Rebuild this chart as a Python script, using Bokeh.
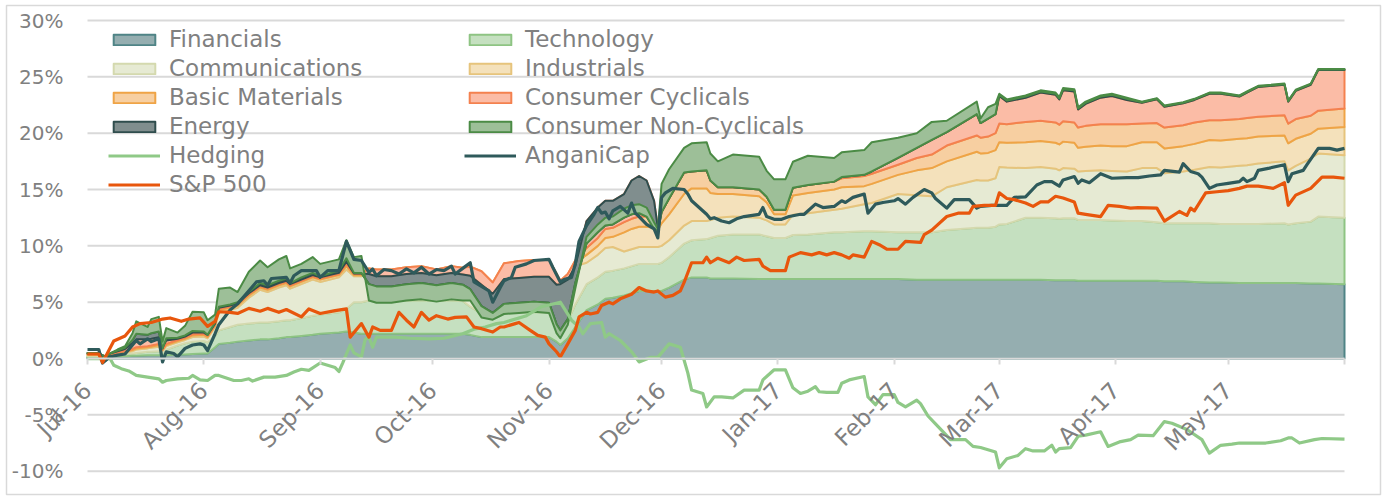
import math
import numpy as np
import pandas as pd
from bokeh.plotting import figure
from bokeh.models import (ColumnDataSource, Legend, LegendItem, FixedTicker,
                          PrintfTickFormatter, Range1d)
from bokeh.embed import file_html
from bokeh.resources import INLINE

# ---------------- data ----------------
sector_names = ["Financials", "Technology", "Communications", "Industrials",
                "Basic Materials", "Consumer Cyclicals", "Energy", "Consumer Non-Cyclicals"]

stack_dates = [
    "2016-07-01", "2016-07-04", "2016-07-06", "2016-07-07", "2016-07-09", "2016-07-11", "2016-07-13", "2016-07-14",
    "2016-07-17", "2016-07-18", "2016-07-20", "2016-07-21", "2016-07-22", "2016-07-25", "2016-07-27", "2016-07-29",
    "2016-08-01", "2016-08-02", "2016-08-04", "2016-08-05", "2016-08-08", "2016-08-10", "2016-08-13", "2016-08-16",
    "2016-08-18", "2016-08-21", "2016-08-23", "2016-08-24", "2016-08-27", "2016-08-30", "2016-09-01", "2016-09-06",
    "2016-09-08",
    "2016-09-10", "2016-09-12", "2016-09-14", "2016-09-16", "2016-09-20", "2016-09-24", "2016-09-28", "2016-10-02",
    "2016-10-06", "2016-10-09", "2016-10-11", "2016-10-14", "2016-10-17",
    "2016-10-20", "2016-10-24", "2016-10-28", "2016-11-01", "2016-11-03", "2016-11-04", "2016-11-06", "2016-11-08",
    "2016-11-11", "2016-11-14", "2016-11-16", "2016-11-18", "2016-11-21", "2016-11-23", "2016-11-25", "2016-11-27",
    "2016-11-29", "2016-11-30",
    "2016-12-01", "2016-12-03", "2016-12-07", "2016-12-09", "2016-12-13", "2016-12-14", "2016-12-16", "2016-12-20",
    "2016-12-27", "2016-12-29", "2016-12-31", "2017-01-03",
    "2017-01-05", "2017-01-09", "2017-01-16", "2017-01-18", "2017-01-24", "2017-01-26", "2017-02-02", "2017-02-07",
    "2017-02-11", "2017-02-15", "2017-02-23", "2017-02-24", "2017-02-26", "2017-02-28", "2017-03-01",
    "2017-03-03", "2017-03-08", "2017-03-12", "2017-03-16", "2017-03-17", "2017-03-18", "2017-03-21", "2017-03-22",
    "2017-03-24", "2017-03-28", "2017-03-31", "2017-04-04",
    "2017-04-08", "2017-04-12", "2017-04-14", "2017-04-19", "2017-04-22", "2017-04-26", "2017-04-29", "2017-05-04",
    "2017-05-06", "2017-05-09", "2017-05-16", "2017-05-17", "2017-05-19", "2017-05-23", "2017-05-25", "2017-06-01"]

financials = [
    .1, .1, .1, .15, .2, .2, .25, .25, .3, .3, .3, .3, .3, .35, .35, .4,
    .45, .45, 1.0, 1.3, 1.4, 1.5, 1.6, 1.7, 1.7, 1.8, 1.9, 1.9, 2.0, 2.1, 2.2, 2.3, 2.4,
    2.3, 2.2, 2.2, 2.2, 2.2, 2.2, 2.2, 2.2, 2.2, 2.2, 2.1, 1.9, 1.9,
    1.9, 1.9, 1.9, 1.9, 1.5, 1.2, 1.8, 2.8,
    4.3, 4.8, 5.3, 5.4, 5.6, 5.8, 6.0, 6.0, 6.0, 6.0,
    6.0, 6.3, 7.0, 7.2, 7.2, 7.1, 7.1, 7.1, 7.06, 7.06, 7.06, 7.06,
    7.06, 7.06, 7.06, 7.06, 7.06, 7.06, 7.06, 7.0, 7.0, 7.0, 7.0, 7.0, 7.0, 7.0, 7.0,
    7.0, 7.0, 7.0, 6.95, 6.95, 6.95, 6.95, 6.9, 6.9, 6.9, 6.9, 6.9,
    6.9, 6.9, 6.85, 6.85, 6.8, 6.75, 6.75, 6.7, 6.7, 6.7, 6.7, 6.7, 6.7, 6.65, 6.65, 6.6]
technology = [
    .1, .1, .05, .1, .15, .2, .2, .25, .3, .3, .35, .2, .5, .8, 1.0, 1.1,
    1.1, 1.0, 1.0, 1.2, 1.4, 1.5, 1.5, 1.5, 1.5, 1.5, 1.5, 1.5, 1.6, 1.7, 1.7, 1.8, 2.0,
    2.7, 2.8, 2.95, 2.95, 2.95, 2.95, 2.95, 2.95, 2.95, 2.9, 2.5, 2.1, 1.8,
    2.2, 2.2, 2.2, 2.2, 1.5, 1.2, 1.5, 2.0,
    2.3, 2.4, 2.4, 2.4, 2.4, 2.4, 2.4, 2.4, 2.4, 2.4,
    2.5, 2.7, 3.2, 3.3, 3.4, 3.6, 3.8, 3.9, 3.94, 3.8, 3.64, 3.64,
    3.9, 3.94, 4.14, 4.14, 4.24, 4.24, 4.14, 4.2, 4.2, 4.4, 4.6, 4.6, 4.6, 4.7, 4.9,
    4.95, 5.5, 5.5, 5.5, 5.45, 5.5, 5.5, 5.4, 5.4, 5.4, 5.35, 5.3,
    5.3, 5.2, 5.15, 5.15, 5.2, 5.25, 5.2, 5.25, 5.25, 5.25, 5.3, 5.2, 5.3, 5.5, 5.95, 5.9]
communications = [
    .1, .1, 0, .05, .1, .15, .2, .3, .3, .35, .4, .2, .3, .3, .3, .4,
    .4, .35, .8, 1.6, 1.5, 1.5, 2.3, 2.9, 2.7, 3.0, 3.1, 2.8, 3.0, 3.2, 2.9, 3.1, 3.5,
    2.3, 2.3, 2.3, 2.2, 2.2, 2.4, 2.5, 2.2, 2.5, 2.4, 3.0, 3.2, 2.5,
    3.8, 4.0, 4.1, 4.1, 4.0, 4.0, 3.7, 3.4,
    1.9, 2.0, 2.1, 2.1, 1.5, 1.5, 1.5, 1.5, 1.5, 1.5,
    1.5, 1.5, 1.6, 1.7, 1.6, 1.6, 1.6, 1.6, 1.5, 1.4, 1.2, 1.2,
    1.8, 1.9, 2.0, 2.1, 2.4, 2.5, 3.4, 3.3, 3.2, 3.8, 4.25, 4.2, 4.2, 4.3, 5.1,
    5.0, 4.4, 4.5, 4.4, 4.3, 4.45, 4.4, 4.3, 4.35, 4.4, 4.4, 4.4,
    4.7, 4.8, 4.45, 4.6, 4.75, 5.0, 5.0, 5.15, 5.2, 5.35, 5.5, 4.8, 5.1, 5.6, 5.6, 5.55]
industrials = [
    .05, .05, 0, .05, .05, .05, .1, .1, .1, .1, .15, .05, .1, .1, .1, .15,
    .15, .1, .1, .2, .2, .2, .2, .2, .2, .2, .2, .2, .2, .2, .2, .2, .3,
    .1, .1, .3, .3, .3, .3, .3, .3, .3, .3, .3, .3, .3,
    .3, .3, .3, .3, .3, .3, .3, .3,
    .7, .8, .9, .9, 1.7, 1.8, 1.8, 1.8, 1.7, 1.5,
    2.0, 2.3, 2.8, 2.9, 2.9, 2.4, 2.1, 2.0, 1.9, 1.6, .9, .9,
    1.7, 1.8, 1.8, 1.9, 1.6, 1.7, 1.7, 2.2, 2.5, 2.3, 2.5, 2.4, 2.45, 2.5, 2.2,
    2.2, 2.3, 2.3, 2.3, 2.3, 2.35, 2.3, 2.1, 2.15, 2.2, 2.2, 2.25,
    2.3, 2.3, 2.2, 2.25, 2.3, 2.4, 2.4, 2.4, 2.4, 2.4, 2.3, 2.4, 2.4, 2.2, 2.2, 2.5]
basic_materials = [
    .05, .05, 0, .05, .05, .05, .1, .1, .1, .1, .1, .05, .1, .1, .1, .1,
    .1, .1, .1, .1, .1, .1, .1, .1, .1, .1, .1, .1, .1, .1, .1, .1, .2,
    .1, .1, .25, .25, .25, .25, .25, .25, .25, .25, .25, .25, .25,
    .25, .25, .25, .25, .25, .2, .2, .2,
    .6, .7, .8, .8, .9, .9, .9, .9, .9, .4,
    1.0, 1.4, 1.9, 1.5, 1.6, 1.1, .6, .6, .6, .5, .4, .4,
    .7, .7, .7, .8, .9, .9, .9, 1.1, 1.2, 1.4, 1.45, 1.4, 1.45, 1.5, 1.65,
    1.65, 1.8, 1.8, 1.8, 1.75, 1.8, 1.8, 1.8, 1.85, 1.9, 1.95, 1.95,
    1.65, 1.7, 1.85, 1.85, 1.9, 1.75, 1.8, 1.75, 1.8, 1.75, 1.8, 1.75, 1.75, 1.6, 1.6, 1.65]
consumer_cyclicals = [
    .05, .05, 0, .05, .1, .2, .5, .7, .6, .6, .6, .2, .3, .1, .1, .15,
    .1, .1, .1, .1, .1, .1, .1, .1, .1, .1, .1, .1, .1, .1, .1, .1, .2,
    .05, .05, -.5, -.6, -.6, -.6, -.6, -.5, -.6, -.6, -.8, -1.2, -1.0,
    -1.4, -1.5, -1.5, -1.5, -1.0, -.3, -.5, -.5,
    2.4, 2.7, 2.5, 2.4, 2.5, 3.4, 3.6, 3.2, 1.5, -.2,
    0, 0, 0, 0, 0, 0, 0, 0, 0, 0, 0, 0,
    0, 0, 0, .1, .1, .2, .6, .9, 1.3, 1.2, 1.9, 1.3, 1.6, 1.7, 2.45,
    2.0, 2.15, 2.5, 2.45, 2.25, 2.75, 2.75, 1.6, 1.95, 2.35, 2.5, 2.15,
    1.85, 2.1, 1.85, 1.95, 2.0, 2.35, 2.35, 2.0, 2.25, 2.65, 2.7, 1.95, 2.5, 2.75, 3.6, 3.4]
energy = [
    .05, .05, -.1, 0, .05, .1, .3, .5, .4, .5, .5, -.1, .2, .1, .1, .15,
    .1, 0, .1, .1, .1, .1, .1, .2, .2, .2, .2, .1, .2, .2, .1, .2, .3,
    .05, .05, -.9, -.9, -.9, -.9, -.9, -.9, -.9, -.9, -1.2, -1.9, -1.7,
    -2.2, -2.2, -2.2, -2.3, -3.5, -4.1, -3.5, -1.5,
    -2.0, -2.2, -2.2, -2.1, -2.1, -3.0, -3.3, -3.2, -2.5, -.3,
    0, 0, 0, 0, 0, 0, 0, 0, 0, 0, 0, 0,
    0, 0, 0, 0, 0, 0, 0, 0, 0, 0, 0, 0, 0, 0, .1,
    .1, .1, .1, .1, .1, .1, .1, .1, .1, .1, .1, .1,
    .05, .05, .05, .05, .05, .05, .05, .05, .05, .05, .05, .05, .05, .05, .05, .05]
consumer_non_cyclicals = [
    0, 0, -.2, 0, .1, .15, .6, 1.1, .7, 1.25, 1.3, .6, .9, .45, .85, 1.7,
    1.7, 1.3, .7, 1.6, 1.5, .9, 1.8, 2.0, 1.6, 1.9, 2.0, 1.3, 1.2, 1.4, 1.1, 1.0, 1.6,
    1.4, 1.5, -1.45, -1.45, -1.45, -1.45, -1.45, -1.45, -1.45, -1.4, -1.0, -1.0, -.6,
    -.9, -.9, -.9, -.9, -.8, -.7, -.5, -.5,
    .6, .7, .7, .7, .8, .8, .8, .8, .6, .2,
    2.5, 2.6, 2.2, 2.5, 2.5, 2.4, 2.3, 2.9, 2.9, 2.3, 2.7, 2.7,
    2.3, 2.6, 2.1, 2.2, 2.2, 2.6, 1.8, 1.3, 1.6, 1.0, 1.1, .4, 1.0, .9, .1,
    .1, .1, .1, .1, .1, .1, .1, .1, .1, .1, .1, .1,
    .05, .05, .05, .05, .05, .05, .05, .05, .05, .05, .05, .05, .05, .05, .05, .05]

hedging_dates = [
    "2016-07-01", "2016-07-04", "2016-07-07", "2016-07-08", "2016-07-10", "2016-07-12", "2016-07-14", "2016-07-17",
    "2016-07-20", "2016-07-21", "2016-07-22", "2016-07-25", "2016-07-28", "2016-07-29", "2016-07-31", "2016-08-02",
    "2016-08-04", "2016-08-05", "2016-08-09", "2016-08-11", "2016-08-13", "2016-08-14", "2016-08-17", "2016-08-20",
    "2016-08-23", "2016-08-25", "2016-08-27", "2016-08-29", "2016-09-01", "2016-09-03", "2016-09-05", "2016-09-06",
    "2016-09-07", "2016-09-09", "2016-09-10", "2016-09-12", "2016-09-13", "2016-09-14", "2016-09-15", "2016-09-16",
    "2016-09-21", "2016-09-25", "2016-09-30", "2016-10-04", "2016-10-09", "2016-10-12", "2016-10-15", "2016-10-18",
    "2016-10-20", "2016-10-26", "2016-10-30", "2016-11-04", "2016-11-07", "2016-11-09", "2016-11-10", "2016-11-12",
    "2016-11-15", "2016-11-16", "2016-11-17", "2016-11-20", "2016-11-23", "2016-11-25", "2016-11-28", "2016-11-30",
    "2016-12-03", "2016-12-06", "2016-12-08", "2016-12-09", "2016-12-12", "2016-12-13", "2016-12-15", "2016-12-17",
    "2016-12-20", "2016-12-23", "2016-12-27", "2016-12-28", "2016-12-31", "2017-01-03", "2017-01-05", "2017-01-07",
    "2017-01-09", "2017-01-11", "2017-01-12", "2017-01-14", "2017-01-17", "2017-01-18", "2017-01-20", "2017-01-24",
    "2017-01-25", "2017-01-27", "2017-01-29", "2017-02-01", "2017-02-02", "2017-02-04", "2017-02-07", "2017-02-08",
    "2017-02-10", "2017-02-12", "2017-02-16", "2017-02-20", "2017-02-22", "2017-02-24", "2017-02-28", "2017-03-01",
    "2017-03-03", "2017-03-06", "2017-03-08", "2017-03-10", "2017-03-13", "2017-03-15", "2017-03-16", "2017-03-17",
    "2017-03-20", "2017-03-22", "2017-03-24", "2017-03-28", "2017-03-30", "2017-04-02", "2017-04-05", "2017-04-07",
    "2017-04-11", "2017-04-14", "2017-04-16", "2017-04-20", "2017-04-24", "2017-04-26", "2017-04-29", "2017-05-02",
    "2017-05-04", "2017-05-11", "2017-05-15", "2017-05-17", "2017-05-18", "2017-05-20", "2017-05-24", "2017-05-26",
    "2017-06-01"]
hedging = [
    0, 0, 0, -.6, -.9, -1.1, -1.5, -1.65,
    -1.8, -2.1, -1.95, -1.8, -1.75, -1.5, -1.9, -1.95,
    -1.5, -1.5, -1.95, -1.95, -1.8, -2.0, -1.65, -1.65,
    -1.5, -1.2, -.95, -1.05, -.4, -.6, -.8, -1.15,
    -.4, 1.2, .5, .15, 1.7, 1.9, 1.0, 1.9,
    1.9, 1.8, 1.75, 1.8, 2.2, 2.6, 2.8, 3.1,
    3.2, 3.8, 4.6, 5.0, 3.4, 2.8, 2.2, 3.1,
    3.2, 1.9, 2.2, 1.6, .6, -.3, .1, .1,
    1.3, 1.0, -1.3, -2.8, -3.1, -4.3, -3.4, -3.4,
    -3.5, -2.8, -2.8, -1.9, -1.0, -1.0, -2.6, -3.1,
    -2.9, -2.5, -2.95, -3.0, -3.0, -2.2, -1.9, -1.6,
    -3.4, -4.1, -3.2, -3.2, -3.9, -4.3, -3.7, -4.0,
    -5.1, -5.8, -7.2, -7.2, -7.8, -7.9, -8.3, -9.7,
    -8.9, -8.6, -8.0, -8.2, -8.2, -7.7, -8.3, -8.0,
    -7.9, -6.9, -6.8, -6.5, -7.8, -7.4, -7.2, -6.8,
    -6.85, -5.6, -5.75, -6.3, -7.2, -8.4, -7.7, -7.6,
    -7.5, -7.5, -7.3, -7.05, -7.05, -7.5, -7.2, -7.1,
    -7.15]

anganicap_dates = [
    "2016-07-01", "2016-07-04", "2016-07-05", "2016-07-07", "2016-07-09", "2016-07-11", "2016-07-13", "2016-07-14",
    "2016-07-15", "2016-07-17", "2016-07-18", "2016-07-20", "2016-07-21", "2016-07-22", "2016-07-24", "2016-07-25",
    "2016-07-27", "2016-07-29", "2016-07-31", "2016-08-01", "2016-08-02", "2016-08-04", "2016-08-05", "2016-08-08",
    "2016-08-10", "2016-08-13", "2016-08-15", "2016-08-17", "2016-08-18", "2016-08-19", "2016-08-23", "2016-08-24",
    "2016-08-25", "2016-08-27", "2016-08-31", "2016-09-01", "2016-09-03", "2016-09-06", "2016-09-08", "2016-09-10",
    "2016-09-12", "2016-09-14", "2016-09-15", "2016-09-16", "2016-09-18", "2016-09-20", "2016-09-22", "2016-09-24",
    "2016-09-26", "2016-09-28", "2016-09-30", "2016-10-02", "2016-10-04", "2016-10-06", "2016-10-07", "2016-10-09",
    "2016-10-11", "2016-10-12", "2016-10-13", "2016-10-16", "2016-10-17", "2016-10-19", "2016-10-20", "2016-10-22",
    "2016-10-23", "2016-10-26", "2016-10-28", "2016-11-01", "2016-11-02", "2016-11-04", "2016-11-05", "2016-11-07",
    "2016-11-08", "2016-11-09", "2016-11-11", "2016-11-13", "2016-11-14", "2016-11-15", "2016-11-16", "2016-11-17",
    "2016-11-18", "2016-11-20", "2016-11-22", "2016-11-23", "2016-11-24", "2016-11-25", "2016-11-27", "2016-11-29",
    "2016-11-30", "2016-12-01", "2016-12-02", "2016-12-04", "2016-12-07", "2016-12-08", "2016-12-09", "2016-12-11",
    "2016-12-13", "2016-12-14", "2016-12-15", "2016-12-17", "2016-12-19", "2016-12-21", "2016-12-23", "2016-12-27",
    "2016-12-28", "2016-12-29", "2016-12-31", "2017-01-02", "2017-01-04", "2017-01-07", "2017-01-08", "2017-01-11",
    "2017-01-13", "2017-01-16", "2017-01-18", "2017-01-19", "2017-01-21", "2017-01-24", "2017-01-25", "2017-01-27",
    "2017-01-29", "2017-02-01", "2017-02-02", "2017-02-04", "2017-02-06", "2017-02-09", "2017-02-11", "2017-02-12",
    "2017-02-15", "2017-02-17", "2017-02-21", "2017-02-23", "2017-02-24", "2017-02-27", "2017-03-03", "2017-03-05",
    "2017-03-08", "2017-03-11", "2017-03-13", "2017-03-15", "2017-03-17", "2017-03-18", "2017-03-21", "2017-03-22",
    "2017-03-23", "2017-03-25", "2017-03-28", "2017-03-31", "2017-04-04", "2017-04-07", "2017-04-10", "2017-04-13",
    "2017-04-14", "2017-04-18", "2017-04-19", "2017-04-21", "2017-04-23", "2017-04-24", "2017-04-26", "2017-04-28",
    "2017-05-01", "2017-05-04", "2017-05-05", "2017-05-06", "2017-05-08", "2017-05-09", "2017-05-12", "2017-05-16",
    "2017-05-17", "2017-05-18", "2017-05-21", "2017-05-22", "2017-05-25", "2017-05-28", "2017-05-30", "2017-06-01"]
anganicap = [
    .8, .8, -.4, .15, .3, .4, 1.2, 1.6,
    1.3, 1.75, 1.5, 1.75, -.3, .6, .45, .15,
    .9, 1.2, 1.3, 1.2, .7, 2.2, 3.0, 4.3,
    4.85, 6.0, 6.8, 6.9, 6.5, 7.1, 7.2, 6.7,
    7.35, 7.8, 7.8, 7.2, 7.8, 7.8, 10.4, 8.8,
    8.7, 7.65, 7.95, 7.35, 7.9, 7.8, 7.5, 7.95,
    7.6, 8.1, 7.5, 7.9, 7.8, 8.2, 7.5, 8.0,
    8.5, 6.8, 6.6, 6.0, 5.0, 6.3, 6.9, 7.2,
    8.1, 8.4, 8.7, 8.8, 8.1, 6.8, 7.0, 7.2,
    8.4, 10.4, 11.8, 12.8, 13.4, 12.9, 13.0, 12.4,
    13.1, 13.5, 12.9, 13.8, 12.9, 12.6, 11.9, 11.5,
    10.7, 14.3, 14.7, 15.1, 15.0, 14.6, 14.0, 13.4,
    12.8, 12.4, 12.5, 12.2, 12.05, 12.4, 12.6, 12.8,
    13.4, 12.6, 12.35, 12.35, 12.6, 12.8, 12.8, 13.7,
    13.4, 13.5, 14.0, 13.85, 14.3, 14.6, 12.9, 13.7,
    13.85, 14.0, 14.2, 13.7, 14.3, 15.0, 14.7, 14.2,
    13.35, 14.1, 14.1, 13.35, 13.5, 13.6, 13.6, 14.3,
    14.35, 15.4, 15.7, 15.7, 15.3, 15.85, 16.15, 15.55,
    15.85, 15.6, 16.4, 16.0, 16.05, 16.05, 16.2, 16.3,
    16.7, 16.55, 17.3, 16.6, 16.4, 16.1, 15.1, 15.4,
    15.55, 15.7, 16.0, 15.7, 16.0, 16.7, 16.9, 17.2,
    15.7, 16.4, 16.7, 17.2, 18.65, 18.65, 18.5, 18.65]

sp500_dates = [
    "2016-07-01", "2016-07-04", "2016-07-05", "2016-07-08", "2016-07-11", "2016-07-13", "2016-07-15", "2016-07-18",
    "2016-07-20", "2016-07-21", "2016-07-23", "2016-07-26", "2016-07-28", "2016-07-31", "2016-08-02", "2016-08-04",
    "2016-08-05", "2016-08-08", "2016-08-10", "2016-08-13", "2016-08-16", "2016-08-18", "2016-08-21", "2016-08-23",
    "2016-08-27", "2016-08-29", "2016-09-01", "2016-09-05", "2016-09-08", "2016-09-09", "2016-09-12", "2016-09-14",
    "2016-09-15", "2016-09-17", "2016-09-20", "2016-09-22", "2016-09-24", "2016-09-26", "2016-09-28", "2016-09-30",
    "2016-10-02", "2016-10-05", "2016-10-07", "2016-10-10", "2016-10-12", "2016-10-14", "2016-10-17", "2016-10-19",
    "2016-10-20", "2016-10-23", "2016-10-24", "2016-10-27", "2016-10-29", "2016-10-31", "2016-11-01", "2016-11-03",
    "2016-11-04", "2016-11-06", "2016-11-08", "2016-11-09", "2016-11-11", "2016-11-12", "2016-11-14", "2016-11-15",
    "2016-11-17", "2016-11-18", "2016-11-20", "2016-11-23", "2016-11-25", "2016-11-27", "2016-11-29", "2016-11-30",
    "2016-12-02", "2016-12-04", "2016-12-06", "2016-12-07", "2016-12-09", "2016-12-12", "2016-12-13", "2016-12-14",
    "2016-12-16", "2016-12-19", "2016-12-21", "2016-12-23", "2016-12-27", "2016-12-28", "2016-12-30", "2017-01-03",
    "2017-01-04", "2017-01-07", "2017-01-10", "2017-01-12", "2017-01-14", "2017-01-16", "2017-01-18", "2017-01-20",
    "2017-01-21", "2017-01-24", "2017-01-26", "2017-01-28", "2017-01-30", "2017-02-02", "2017-02-04", "2017-02-08",
    "2017-02-09", "2017-02-11", "2017-02-15", "2017-02-18", "2017-02-21", "2017-02-22", "2017-02-25", "2017-02-28",
    "2017-03-01", "2017-03-03", "2017-03-05", "2017-03-08", "2017-03-10", "2017-03-12", "2017-03-14", "2017-03-16",
    "2017-03-18", "2017-03-21", "2017-03-22", "2017-03-24", "2017-03-28", "2017-03-30", "2017-04-02", "2017-04-05",
    "2017-04-07", "2017-04-12", "2017-04-14", "2017-04-18", "2017-04-20", "2017-04-21", "2017-04-22", "2017-04-25",
    "2017-04-28", "2017-05-01", "2017-05-04", "2017-05-06", "2017-05-09", "2017-05-13", "2017-05-16", "2017-05-17",
    "2017-05-19", "2017-05-23", "2017-05-26", "2017-05-29", "2017-06-01"]
sp500 = [
    .4, .4, -.35, 1.55, 2.0, 2.8, 3.1, 3.2,
    3.4, 3.5, 3.6, 3.3, 3.5, 3.6, 2.85, 3.3,
    4.15, 4.1, 4.0, 4.45, 4.2, 4.45, 4.1, 4.35,
    3.7, 4.4, 4.0, 4.25, 4.4, 1.9, 3.1, 1.9,
    2.8, 2.5, 2.5, 4.1, 3.4, 2.8, 4.1, 3.4,
    3.8, 3.5, 3.65, 3.7, 2.8, 2.65, 2.35, 2.8,
    2.8, 3.1, 3.2, 2.5, 2.05, 1.9, 1.3, .6,
    .15, 1.3, 2.5, 3.7, 4.1, 3.95, 4.1, 4.7,
    5.0, 4.85, 5.3, 5.7, 6.3, 6.0, 5.9, 6.0,
    5.45, 5.6, 6.0, 6.75, 8.5, 8.5, 9.0, 8.5,
    8.9, 8.5, 9.0, 8.7, 8.8, 8.2, 7.8, 7.8,
    9.0, 9.4, 9.2, 9.4, 9.2, 9.4, 9.2, 8.9,
    9.2, 9.0, 10.4, 10.1, 9.7, 9.7, 10.4, 10.3,
    11.0, 11.4, 12.6, 12.9, 12.9, 13.5, 13.6, 13.6,
    14.7, 14.2, 14.1, 13.8, 13.5, 13.9, 13.9, 14.4,
    14.25, 13.9, 12.9, 12.8, 12.6, 13.6, 13.5, 13.35,
    13.4, 13.35, 12.2, 13.05, 12.7, 13.35, 13.1, 14.7,
    14.8, 14.9, 15.1, 15.3, 15.3, 15.1, 15.6, 13.6,
    14.5, 15.1, 16.1, 16.1, 16.0]

tick_months = ["2016-07-01", "2016-08-01", "2016-09-01", "2016-10-01", "2016-11-01", "2016-12-01",
               "2017-01-01", "2017-02-01", "2017-03-01", "2017-04-01", "2017-05-01"]
tick_labels = ["Jul-16", "Aug-16", "Sep-16", "Oct-16", "Nov-16", "Dec-16",
               "Jan-17", "Feb-17", "Mar-17", "Apr-17", "May-17"]
axis_start, axis_end = "2016-07-01", "2017-06-01"
y_min, y_max = -10, 30
y_ticks = [-10, -5, 0, 5, 10, 15, 20, 25, 30]

# ---------------- layout & styling ----------------
W, H = 1384, 498
BOX = dict(left=6, right=1380, top=5, bottom=494)            # outer chart border (frame)
PLOT = dict(left=87, right=1344, top=20, bottom=470.7)       # plot area inside it
fills = ["#95aeb0", "#c5e0c0", "#e6ead3", "#f4e1bb", "#f7cfa1", "#fbbca6", "#808e8e", "#9dbf98"]
borders = ["#4f8486", "#8ec483", "#d4d9ae", "#e6c47c", "#efa446", "#f4814f", "#2f4d4d", "#4b8b45"]
TXT = "#808080"
GRID = "#d9d9d9"
FONT = "DejaVu Sans"


def ms(s):
    return pd.Timestamp(s).value // 10**6


t0, t1 = pd.Timestamp(axis_start), pd.Timestamp(axis_end)
px_per_day = (PLOT["right"] - PLOT["left"]) / ((t1 - t0).days)
px_per_unit = (PLOT["bottom"] - PLOT["top"]) / (y_max - y_min)
x_lo = t0 - pd.Timedelta(days=(PLOT["left"] - BOX["left"]) / px_per_day)
x_hi = t1 + pd.Timedelta(days=(BOX["right"] - PLOT["right"]) / px_per_day)
y_hi = y_max + (PLOT["top"] - BOX["top"]) / px_per_unit
y_lo = y_min - (BOX["bottom"] - PLOT["bottom"]) / px_per_unit

p = figure(width=W, height=H, x_axis_type="datetime", output_backend="svg",
           toolbar_location=None,
           x_range=Range1d(x_lo, x_hi), y_range=Range1d(y_lo, y_hi),
           min_border_left=BOX["left"], min_border_right=W - BOX["right"],
           min_border_top=BOX["top"], min_border_bottom=H - BOX["bottom"])
p.outline_line_color = GRID
p.outline_line_width = 1.5
p.background_fill_color = "white"
p.border_fill_color = "white"
p.xgrid.visible = False
p.ygrid.visible = False

# horizontal gridlines spanning the plot area only
p.segment(x0=[t0] * len(y_ticks), x1=[t1] * len(y_ticks), y0=y_ticks, y1=y_ticks,
          line_color=GRID, line_width=2)

# stacked areas (each series a closed polygon between its cumulative bounds)
series = [financials, technology, communications, industrials,
          basic_materials, consumer_cyclicals, energy, consumer_non_cyclicals]
cum = np.cumsum(np.array(series, dtype=float), axis=0)
dts = list(pd.to_datetime(stack_dates))
xs = dts + dts[::-1]
area_renderers = []
for i in range(len(series)):
    top = cum[i]
    bottom = cum[i - 1] if i > 0 else np.zeros(len(dts))
    ys = list(top) + list(bottom[::-1])
    r = p.patch(xs, ys, fill_color=fills[i], line_color=borders[i], line_width=2,
                line_join="round")
    area_renderers.append(r)

hsrc = ColumnDataSource(dict(date=pd.to_datetime(hedging_dates), v=hedging))
asrc = ColumnDataSource(dict(date=pd.to_datetime(anganicap_dates), v=anganicap))
ssrc = ColumnDataSource(dict(date=pd.to_datetime(sp500_dates), v=sp500))
rh = p.line(x="date", y="v", source=hsrc, line_color="#8fc987", line_width=3.2, line_join="round")
ra = p.line(x="date", y="v", source=asrc, line_color="#2e5a5b", line_width=3.2, line_join="round")
rs = p.line(x="date", y="v", source=ssrc, line_color="#e8560c", line_width=3.2, line_join="round")

# y axis, placed at the left edge of the plot area
ya = p.yaxis[0]
ya.fixed_location = ms(axis_start)
ya.ticker = FixedTicker(ticks=y_ticks)
ya.formatter = PrintfTickFormatter(format="%d%%")
ya.axis_line_color = None
ya.major_tick_line_color = None
ya.minor_tick_line_color = None
ya.major_tick_out = 0
ya.major_tick_in = 0
ya.minor_tick_out = 0
ya.major_label_standoff = 24
ya.major_label_text_font = FONT
ya.major_label_text_font_size = "20px"
ya.major_label_text_color = TXT

# x axis drawn at y = 0
xa = p.xaxis[0]
xa.fixed_location = 0
xa.bounds = (ms(axis_start), ms(axis_end))
xa.ticker = FixedTicker(ticks=[ms(t) for t in tick_months], minor_ticks=[ms(axis_end)])
xa.major_label_overrides = {ms(t): lab for t, lab in zip(tick_months, tick_labels)}
xa.major_label_orientation = math.pi / 4
xa.major_label_standoff = 22
xa.major_label_text_font = FONT
xa.major_label_text_font_size = "23px"
xa.major_label_text_color = TXT
xa.axis_line_color = GRID
xa.axis_line_width = 2
xa.major_tick_line_color = GRID
xa.major_tick_line_width = 2
xa.major_tick_in = 0
xa.major_tick_out = 6
xa.minor_tick_line_color = GRID
xa.minor_tick_line_width = 2
xa.minor_tick_in = 0
xa.minor_tick_out = 6

items = [LegendItem(label=sector_names[i], renderers=[area_renderers[i]]) for i in range(8)]
items.append(LegendItem(label="Hedging", renderers=[rh]))
items.append(LegendItem(label="AnganiCap", renderers=[ra]))
items.append(LegendItem(label="S&P 500", renderers=[rs]))

legend = Legend(items=items, orientation="horizontal", ncols=2,
                location=(102, 297), padding=0, margin=0, spacing=3,
                glyph_width=52, glyph_height=13, label_standoff=9,
                label_width=292, label_height=26,
                label_text_font=FONT, label_text_font_size="23px", label_text_color=TXT,
                background_fill_alpha=0, border_line_color=None)
p.add_layout(legend)

open("out.html", "w").write(file_html(p, INLINE))
